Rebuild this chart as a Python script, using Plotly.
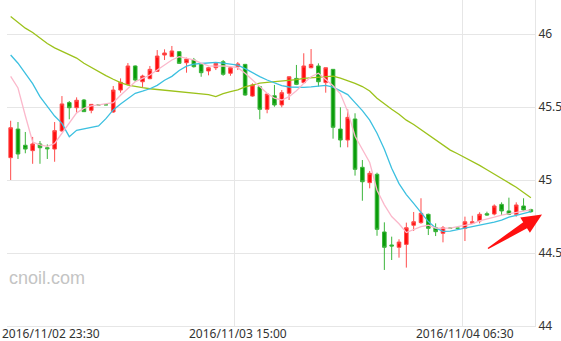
import plotly.graph_objects as go

# ---- data (30-minute candles, index 0 = 2016/11/02 23:30) ----
opens = [45.153, 45.349, 45.238, 45.201, 45.247, 45.221, 45.212, 45.336, 45.530, 45.495,
         45.548, 45.477, 45.515, 45.515, 45.466, 45.616, 45.655, 45.781, 45.673, 45.694,
         45.744, 45.856, 45.845, 45.879, 45.803, 45.822, 45.792, 45.747, 45.769, 45.810,
         45.731, 45.776, 45.792, 45.575, 45.639, 45.484, 45.577, 45.514, 45.594, 45.696,
         45.667, 45.769, 45.781, 45.667, 45.758, 45.349, 45.274, 45.418, 45.087, 44.982,
         45.039, 44.644, 44.555, 44.539, 44.559, 44.690, 44.708, 44.765, 44.673, 44.635,
         44.670, 44.670, 44.669, 44.703, 44.719, 44.769, 44.767, 44.833, 44.788, 44.765,
         44.822, 44.797]
highs = [45.406, 45.397, 45.329, 45.295, 45.267, 45.244, 45.397, 45.575, 45.541, 45.566,
         45.555, 45.520, 45.515, 45.515, 45.644, 45.696, 45.801, 45.785, 45.721, 45.781,
         45.890, 45.895, 45.918, 45.882, 45.838, 45.836, 45.799, 45.775, 45.808, 45.822,
         45.781, 45.808, 45.795, 45.662, 45.645, 45.592, 45.651, 45.616, 45.710, 45.788,
         45.868, 45.897, 45.799, 45.770, 45.760, 45.498, 45.484, 45.457, 45.137, 45.062,
         45.050, 44.710, 44.612, 44.594, 44.708, 44.781, 44.875, 44.770, 44.703, 44.685,
         44.670, 44.670, 44.749, 44.755, 44.779, 44.783, 44.833, 44.847, 44.879, 44.847,
         44.875, 44.803]
lows = [45.000, 45.144, 45.183, 45.111, 45.111, 45.144, 45.125, 45.330, 45.416, 45.457,
        45.466, 45.457, 45.515, 45.515, 45.460, 45.598, 45.650, 45.673, 45.635, 45.690,
        45.740, 45.822, 45.845, 45.795, 45.735, 45.770, 45.707, 45.717, 45.753, 45.714,
        45.714, 45.753, 45.577, 45.570, 45.416, 45.457, 45.502, 45.498, 45.548, 45.650,
        45.660, 45.765, 45.640, 45.598, 45.283, 45.224, 45.224, 45.030, 44.858, 44.943,
        44.618, 44.384, 44.452, 44.468, 44.400, 44.651, 44.700, 44.623, 44.616, 44.573,
        44.670, 44.670, 44.582, 44.700, 44.703, 44.755, 44.758, 44.760, 44.760, 44.749,
        44.790, 44.776]
closes = [45.358, 45.178, 45.212, 45.247, 45.221, 45.214, 45.338, 45.521, 45.495, 45.546,
          45.468, 45.518, 45.515, 45.515, 45.616, 45.669, 45.781, 45.685, 45.712, 45.758,
          45.849, 45.870, 45.884, 45.799, 45.829, 45.776, 45.735, 45.769, 45.799, 45.724,
          45.769, 45.795, 45.582, 45.651, 45.484, 45.589, 45.514, 45.598, 45.707, 45.655,
          45.781, 45.792, 45.673, 45.769, 45.361, 45.274, 45.429, 45.073, 44.988, 45.046,
          44.662, 44.539, 44.548, 44.575, 44.673, 44.714, 44.772, 44.669, 44.646, 44.673,
          44.670, 44.670, 44.714, 44.714, 44.765, 44.760, 44.822, 44.788, 44.765, 44.829,
          44.795, 44.783]

# moving-average lines (one value per candle)
ma_pink = [45.71, 45.63, 45.44, 45.26, 45.24, 45.23, 45.25, 45.32, 45.39, 45.46,
           45.49, 45.507, 45.514, 45.52, 45.53, 45.58, 45.628, 45.673, 45.696, 45.719,
           45.753, 45.788, 45.822, 45.845, 45.833, 45.822, 45.80, 45.781, 45.78, 45.781,
           45.776, 45.769, 45.731, 45.685, 45.639, 45.594, 45.56, 45.548, 45.571, 45.612,
           45.662, 45.707, 45.731, 45.69, 45.645, 45.59, 45.47, 45.30, 45.21, 45.12,
           44.93, 44.83, 44.75, 44.70, 44.64, 44.66, 44.68, 44.69, 44.67, 44.67,
           44.67, 44.68, 44.69, 44.70, 44.72, 44.73, 44.745, 44.76, 44.77, 44.78,
           44.79, 44.795]
ma_cyan = [45.856, 45.80, 45.731, 45.66, 45.571, 45.502, 45.438, 45.388, 45.297, 45.34,
           45.35, 45.36, 45.37, 45.42, 45.48, 45.52, 45.56, 45.594, 45.608, 45.625,
           45.648, 45.683, 45.71, 45.75, 45.78, 45.793, 45.798, 45.802, 45.806, 45.80,
           45.795, 45.787, 45.763, 45.735, 45.708, 45.685, 45.665, 45.647, 45.637, 45.635,
           45.635, 45.638, 45.645, 45.648, 45.636, 45.61, 45.585, 45.53, 45.475, 45.41,
           45.32, 45.21, 45.08, 44.975, 44.90, 44.84, 44.775, 44.715, 44.672, 44.648,
           44.65, 44.66, 44.668, 44.68, 44.692, 44.70, 44.712, 44.725, 44.745, 44.758,
           44.772, 44.783]
ma_olive = [46.12, 46.08, 46.04, 46.01, 45.97, 45.935, 45.905, 45.88, 45.86, 45.835,
            45.80, 45.77, 45.74, 45.715, 45.69, 45.667, 45.65, 45.639, 45.632, 45.625,
            45.62, 45.616, 45.613, 45.61, 45.604, 45.599, 45.595, 45.585, 45.571, 45.592,
            45.605, 45.617, 45.638, 45.653, 45.663, 45.669, 45.673, 45.676, 45.68, 45.688,
            45.696, 45.70, 45.708, 45.712, 45.712, 45.698, 45.682, 45.662, 45.64, 45.61,
            45.56, 45.52, 45.485, 45.45, 45.41, 45.38, 45.345, 45.31, 45.27, 45.24,
            45.205, 45.18, 45.155, 45.13, 45.10, 45.07, 45.04, 45.01, 44.985, 44.95,
            44.915, 44.878]

x_tick_idx = [0, 31, 62]
x_tick_text = ["2016/11/02 23:30", "2016/11/03 15:00", "2016/11/04 06:30"]
y_tick_vals = [44, 44.5, 45, 45.5, 46]
y_tick_text = ["44", "44.5", "45", "45.5", "46"]

RED_FILL, RED_LINE = "#ff0d0d", "#ff4d4d"
GREEN_FILL, GREEN_LINE = "#0a9c0a", "#3bb53b"
FONT = "Noto Sans, Open Sans, sans-serif"

n = len(opens)
xs = list(range(n))
up = [c > o for o, c in zip(opens, closes)]


def subset(mask):
    sel = [i for i in xs if mask[i]]
    return (sel, [opens[i] for i in sel], [highs[i] for i in sel],
            [lows[i] for i in sel], [closes[i] for i in sel])


fig = go.Figure()
for mask, fill, line in [(up, RED_FILL, RED_LINE),
                         ([not u for u in up], GREEN_FILL, GREEN_LINE)]:
    sx, so, sh, sl, sc = subset(mask)
    style = dict(fillcolor=fill, line=dict(color=line, width=1))
    fig.add_trace(go.Candlestick(x=sx, open=so, high=sh, low=sl, close=sc,
                                 increasing=style, decreasing=style,
                                 whiskerwidth=0, showlegend=False, hoverinfo="skip"))

for vals, col in [(ma_olive, "#9cc21b"), (ma_cyan, "#3cc0e0"), (ma_pink, "#fbb8cb")]:
    fig.add_trace(go.Scatter(x=xs, y=vals, mode="lines",
                             line=dict(color=col, width=1.3),
                             showlegend=False, hoverinfo="skip"))

# x labels (first one kept inside the canvas, like the original)
lab_font = dict(family=FONT, size=12, color="#333")
annotations = []
for k, (ti, tt) in enumerate(zip(x_tick_idx, x_tick_text)):
    common = dict(text=tt, yref="paper", y=0, yanchor="middle", yshift=-7,
                  borderpad=0, showarrow=False, font=lab_font)
    if k == 0:
        annotations.append(dict(xref="paper", x=0, xanchor="left", xshift=-6, **common))
    else:
        annotations.append(dict(xref="x", x=ti, xanchor="center", **common))
annotations.append(dict(text="cnoil.com", xref="paper", x=0, xanchor="left", xshift=0,
                        yref="paper", y=0.147, yanchor="middle", showarrow=False,
                        font=dict(family="Liberation Sans, Arial, sans-serif", size=18,
                                  color="#c4c4c4")))

# red arrow marker (in paper coordinates, pointing at the last candle)
W, H, L0, T0 = 528.0, 326.0, 7.0, 0.0
def px(x, y):
    return (x - L0) / W, (T0 + H - y) / H
pts = [(487.6, 247.9), (523.2, 222.2), (520.3, 217.6), (542.0, 214.5),
       (529.9, 232.8), (527.0, 228.2), (488.4, 249.1)]
path = "M " + " L ".join(f"{px(a, b)[0]:.5f},{px(a, b)[1]:.5f}" for a, b in pts) + " Z"

fig.update_layout(
    width=561, height=341,
    margin=dict(l=7, r=26, t=0, b=15),
    paper_bgcolor="white", plot_bgcolor="white",
    template="none",
    annotations=annotations,
    shapes=[dict(type="path", path=path, xref="paper", yref="paper",
                 fillcolor="#ff1010", line=dict(width=0), layer="above")],
    xaxis=dict(range=[-0.5, 71.56], rangeslider=dict(visible=False),
               tickvals=[t - 0.4 for t in x_tick_idx], showticklabels=False,
               showgrid=True, gridcolor="#e6e6e6", gridwidth=1, zeroline=False,
               showline=True, linecolor="#e6e6e6", linewidth=1, ticks="",
               automargin=False, fixedrange=True),
    yaxis=dict(range=[44, 44 + 326 / 146], side="right",
               tickvals=y_tick_vals, ticktext=y_tick_text, ticks="",
               tickfont=dict(family=FONT, size=12, color="#333"),
               showgrid=True, gridcolor="#e6e6e6", gridwidth=1, zeroline=False,
               showline=True, linecolor="#e6e6e6", linewidth=1,
               automargin=False, fixedrange=True),
    boxgap=0.3,
)

fig.write_html("out.html")
